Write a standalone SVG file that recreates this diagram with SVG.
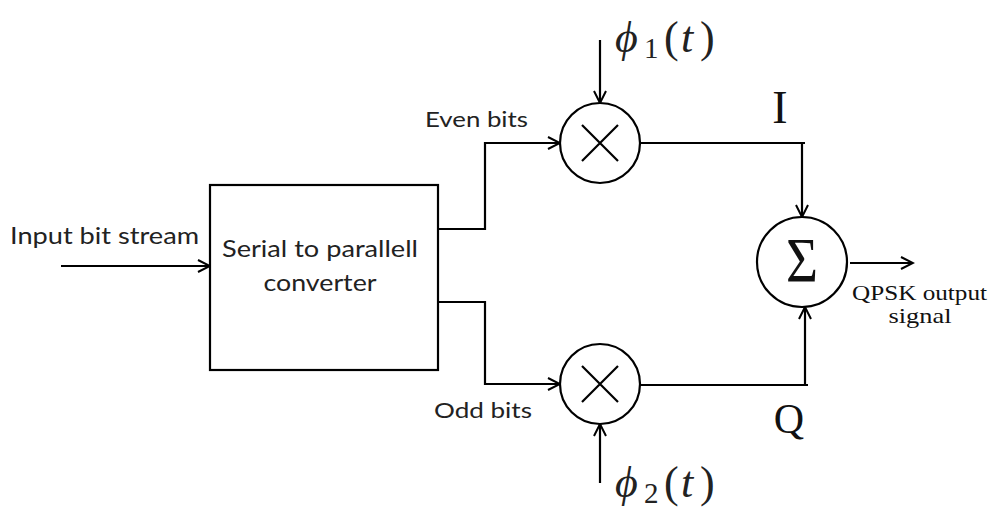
<svg xmlns="http://www.w3.org/2000/svg" width="993" height="512" viewBox="0 0 993 512">
<defs>
<marker id="arr" markerUnits="userSpaceOnUse" markerWidth="16" markerHeight="16" viewBox="0 0 16 16" refX="14" refY="8" orient="auto">
<path d="M2,2 L14,8 L2,14" fill="none" stroke="#000" stroke-width="2"/>
</marker>
<style>
.ln{fill:none;stroke:#000;stroke-width:2.2}
.nd{fill:#fff;stroke:#000;stroke-width:2.2}
.sans{font-family:Lato,"Open Sans","Liberation Sans",sans-serif;fill:#222}
.ser{font-family:"Liberation Serif","DejaVu Serif",serif;fill:#111}
.math{font-family:"Liberation Serif","DejaVu Serif",serif;fill:#222}
</style>
</defs>
<rect width="993" height="512" fill="#fff"/>
<g id="connectors">
<line class="ln" x1="61" y1="266" x2="210" y2="266" marker-end="url(#arr)"/>
<polyline class="ln" points="438,229 485,229 485,143 560,143" marker-end="url(#arr)"/>
<polyline class="ln" points="438,302 485,302 485,384 560,384" marker-end="url(#arr)"/>
<line class="ln" x1="600" y1="40" x2="600" y2="103" marker-end="url(#arr)"/>
<line class="ln" x1="600" y1="483" x2="600" y2="424" marker-end="url(#arr)"/>
<polyline class="ln" points="640,143 805,143"/>
<line class="ln" x1="802" y1="143" x2="802" y2="217" marker-end="url(#arr)"/>
<polyline class="ln" points="640,385 808,385"/>
<line class="ln" x1="805" y1="385" x2="805" y2="307" marker-end="url(#arr)"/>
<line class="ln" x1="850" y1="263" x2="913" y2="263" marker-end="url(#arr)"/>
</g>
<g id="converter">
<rect class="nd" x="210" y="185" width="228" height="185"/>
<text class="sans" x="320" y="257" font-size="24" text-anchor="middle" textLength="196" lengthAdjust="spacingAndGlyphs">Serial to parallell</text>
<text class="sans" x="320" y="291" font-size="24" text-anchor="middle" textLength="113" lengthAdjust="spacingAndGlyphs">converter</text>
</g>
<g id="mult1">
<circle class="nd" cx="600" cy="143" r="40"/>
<path class="ln" d="M582,125 L618,161 M618,125 L582,161"/>
</g>
<g id="mult2">
<circle class="nd" cx="600" cy="384" r="40"/>
<path class="ln" d="M582,366 L618,402 M618,366 L582,402"/>
</g>
<g id="sum">
<circle class="nd" cx="802" cy="262" r="45"/>
<text class="ser" x="786" y="282" font-size="64" textLength="32" lengthAdjust="spacingAndGlyphs">Σ</text>
</g>
<g id="labels">
<text class="sans" x="10" y="244" font-size="24" textLength="189" lengthAdjust="spacingAndGlyphs">Input bit stream</text>
<text class="sans" x="425" y="127" font-size="21" textLength="103" lengthAdjust="spacingAndGlyphs">Even bits</text>
<text class="sans" x="434" y="418" font-size="21" textLength="98" lengthAdjust="spacingAndGlyphs">Odd bits</text>
<text class="ser" x="780" y="123" font-size="46" text-anchor="middle">I</text>
<text class="ser" x="789" y="433" font-size="42" text-anchor="middle">Q</text>
<text class="ser" x="852" y="300" font-size="22" textLength="135" lengthAdjust="spacingAndGlyphs">QPSK output</text>
<text class="ser" x="920" y="323" font-size="22" text-anchor="middle" textLength="63" lengthAdjust="spacingAndGlyphs">signal</text>
<text class="math" font-size="44" y="52"><tspan x="615" font-style="italic">ϕ</tspan><tspan x="644" y="58" font-size="29">1</tspan><tspan x="664" y="52">(</tspan><tspan x="681" font-style="italic">t</tspan><tspan x="700">)</tspan></text>
<text class="math" font-size="44" y="497"><tspan x="615" font-style="italic">ϕ</tspan><tspan x="644" y="503" font-size="29">2</tspan><tspan x="664" y="497">(</tspan><tspan x="681" font-style="italic">t</tspan><tspan x="700">)</tspan></text>
</g>
</svg>
